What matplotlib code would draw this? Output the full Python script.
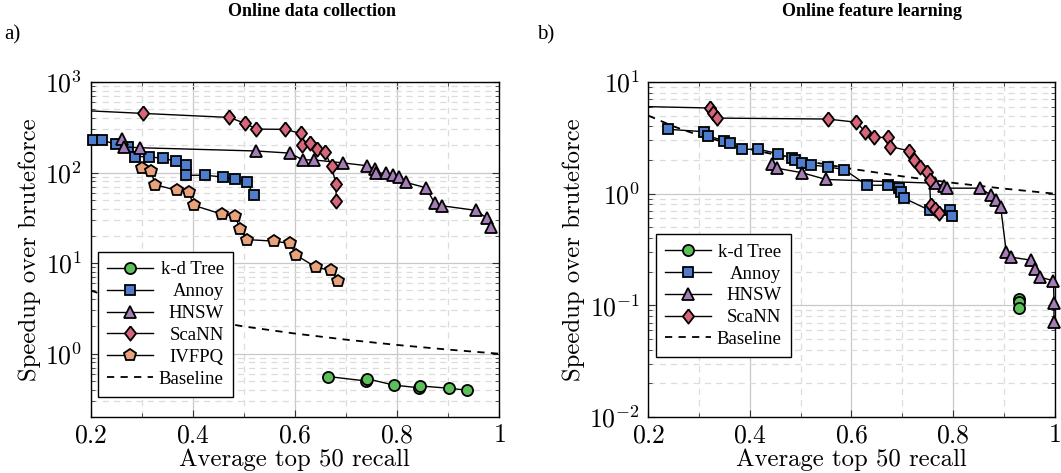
import numpy as np
import matplotlib
matplotlib.use("Agg")
import matplotlib.pyplot as plt
from matplotlib.lines import Line2D
from matplotlib.ticker import FixedLocator, FuncFormatter, NullFormatter, LogLocator
from matplotlib.transforms import Bbox

plt.rcParams["font.family"] = "serif"
plt.rcParams["font.serif"] = ["Liberation Serif", "DejaVu Serif"]
plt.rcParams["mathtext.fontset"] = "cm"

# ---------------- data: a) Online data collection ----------------
kd_a_x = [0.665, 0.739, 0.741, 0.794, 0.844, 0.846, 0.903, 0.938]
kd_a_y = [0.56, 0.50, 0.53, 0.45, 0.42, 0.44, 0.415, 0.395]

annoy_a_x = [0.204, 0.2225, 0.249, 0.2725, 0.287, 0.314, 0.342, 0.367, 0.388, 0.388,
             0.424, 0.459, 0.483, 0.506, 0.520]
annoy_a_y = [228, 228, 206, 192, 150, 150, 143, 134, 122, 93.4, 93.4, 89.5, 84.4, 78.8, 56.1]

hnsw_a_x = [0.262, 0.266, 0.297, 0.525, 0.590, 0.616, 0.637, 0.694, 0.741, 0.758, 0.760,
            0.779, 0.793, 0.805, 0.818, 0.857, 0.874, 0.888, 0.954, 0.977, 0.984]
hnsw_a_y = [232, 192, 188, 173, 164, 138, 138, 128, 119, 109, 98, 99, 93, 89.5, 77.8, 68,
            46, 43, 38.3, 31.2, 25.3]

scann_a_x = [0.10, 0.303, 0.472, 0.503, 0.525, 0.581, 0.612, 0.614, 0.630, 0.644, 0.659,
             0.672, 0.681, 0.681]
scann_a_y = [510, 450, 406, 349, 302, 300, 270, 201, 210, 180, 169, 117, 74, 48.5]

ivfpq_a_x = [0.300, 0.318, 0.327, 0.369, 0.392, 0.402, 0.458, 0.483, 0.493, 0.506, 0.559,
             0.591, 0.602, 0.642, 0.671, 0.685]
ivfpq_a_y = [111, 105, 73.3, 63.7, 61, 43.5, 34.6, 32.9, 24, 18.2, 17.5, 16.5, 12.3, 9.0,
             8.3, 6.27]

# ---------------- data: b) Online feature learning ----------------
kd_b_x = [0.931, 0.931, 0.931]
kd_b_y = [0.113, 0.107, 0.094]

annoy_b_x = [0.239, 0.309, 0.318, 0.350, 0.361, 0.384, 0.417, 0.456, 0.483, 0.488, 0.502,
             0.520, 0.554, 0.586, 0.631, 0.673, 0.693, 0.698, 0.704, 0.754, 0.795, 0.798]
annoy_b_y = [3.77, 3.59, 3.28, 2.98, 2.82, 2.50, 2.50, 2.28, 2.07, 2.00, 1.87, 1.81, 1.74,
             1.64, 1.19, 1.19, 1.12, 1.03, 0.91, 0.71, 0.71, 0.63]

hnsw_b_x = [0.443, 0.453, 0.503, 0.550, 0.765, 0.783, 0.789, 0.854, 0.875, 0.884, 0.894,
            0.905, 0.915, 0.953, 0.961, 0.971, 0.998, 0.999, 0.999]
hnsw_b_y = [1.84, 1.69, 1.54, 1.34, 1.24, 1.17, 1.12, 1.12, 0.97, 0.88, 0.76, 0.30, 0.27,
            0.254, 0.211, 0.179, 0.166, 0.105, 0.071]

scann_b_x = [0.10, 0.322, 0.328, 0.336, 0.553, 0.610, 0.627, 0.644, 0.673, 0.677, 0.713,
             0.723, 0.736, 0.748, 0.754, 0.756, 0.764, 0.773]
scann_b_y = [6.15, 5.85, 5.33, 4.75, 4.66, 4.36, 3.59, 3.19, 3.19, 2.64, 2.42, 2.01, 1.72,
             1.57, 1.32, 0.79, 0.73, 0.67]

baseline_x = [0.2, 0.25, 0.3, 0.4, 0.5, 0.6, 0.7, 0.8, 0.9, 1.0]
baseline_y = [5.0, 4.0, 3.33, 2.5, 2.0, 1.67, 1.43, 1.25, 1.11, 1.0]

x_ticks = [0.2, 0.4, 0.6, 0.8, 1.0]
x_ticklabels = ["0.2", "0.4", "0.6", "0.8", "1"]

titles = ["Online data collection", "Online feature learning"]
panel_tags = ["a)", "b)"]
xlabel = "Average top 50 recall"
ylabel = "Speedup over bruteforce"

# ---------------- styles ----------------
C_KD = "#5cbf5a"
C_AN = "#4d7dcc"
C_HN = "#a57db6"
C_SC = "#d8667b"
C_IV = "#e8a27c"
diamond = [(0, 1), (0.78, 0), (0, -1), (-0.78, 0), (0, 1)]
STY = {
    "k-d Tree": dict(marker="o", mfc=C_KD, ms=8.0),
    "Annoy": dict(marker="s", mfc=C_AN, ms=7.8),
    "HNSW": dict(marker="^", mfc=C_HN, ms=9.0),
    "ScaNN": dict(marker=diamond, mfc=C_SC, ms=10.3),
    "IVFPQ": dict(marker="p", mfc=C_IV, ms=9.3),
}
FS_TICK = 18.5
FS_LAB = 17.8
FS_LEG = 13.5

W, H = 1061, 473
fig = plt.figure(figsize=(W / 100, H / 100), dpi=100)
axA = fig.add_axes([90.5 / W, (H - 417) / H, 408.5 / W, 335 / H])
axB = fig.add_axes([648.3 / W, (H - 417) / H, 406.2 / W, 335 / H])


def draw_series(ax, x, y, name, z):
    x = np.asarray(x, float)
    y = np.asarray(y, float)
    st = STY[name]
    ax.plot(x, y, "-", color="black", lw=1.0, zorder=z)
    m = (x >= 0.2) & (x <= 1.0)
    ax.plot(x[m], y[m], ls="none", marker=st["marker"], mfc=st["mfc"], mec="black",
            mew=1.3, ms=st["ms"], zorder=z + 0.5, clip_on=False)
    return Line2D([], [], color="black", lw=1.0, marker=st["marker"], mfc=st["mfc"],
                  mec="black", mew=1.3, ms=st["ms"])


def style_axes(ax, ylim, ydecades):
    ax.set_xscale("linear")
    ax.set_yscale("log")
    ax.set_xlim(0.2, 1.0)
    ax.set_ylim(*ylim)
    ax.xaxis.set_major_locator(FixedLocator(x_ticks))
    ax.xaxis.set_major_formatter(FuncFormatter(
        lambda v, p: "$" + x_ticklabels[int(round((v - 0.2) / 0.2))] + "$"))
    ax.xaxis.set_minor_locator(FixedLocator([0.3, 0.5, 0.7, 0.9]))
    ax.yaxis.set_major_locator(FixedLocator([10.0 ** d for d in ydecades]))
    ax.yaxis.set_major_formatter(FuncFormatter(
        lambda v, p: "$10^{%d}$" % int(round(np.log10(v)))))
    ax.yaxis.set_minor_locator(LogLocator(base=10, subs=np.arange(2, 10), numticks=20))
    ax.yaxis.set_minor_formatter(NullFormatter())
    ax.grid(True, which="major", color="#c8c8c8", lw=0.9, ls="-", zorder=0)
    ax.grid(True, which="minor", color="#dcdcdc", lw=0.9, ls=(0, (5, 4)), zorder=0)
    ax.set_axisbelow(True)
    ax.tick_params(which="both", direction="in", top=True, right=True,
                   labelsize=FS_TICK, color="#333333")
    ax.tick_params(which="major", length=5, width=0.8, pad=6)
    ax.tick_params(which="minor", length=3, width=0.6)
    for s in ax.spines.values():
        s.set_linewidth(1.0)
        s.set_color("black")
    ax.set_xlabel(xlabel, fontsize=FS_LAB, family="cmr10", labelpad=1)
    ax.set_ylabel(ylabel, fontsize=FS_LAB, family="cmr10", labelpad=3)


def right_align_legend(leg):
    col = leg._legend_handle_box.get_children()[0]
    items = col.get_children()
    tas = [it.get_children()[1] for it in items]
    for ta in tas:
        ta._text.set_ha("right")
    cls = type(tas[0])

    def make(ta):
        def gb(renderer):
            W_ = max(cls.get_bbox(t, renderer).width for t in tas)
            b = cls.get_bbox(ta, renderer)
            return Bbox.from_bounds(-W_, b.y0, W_, b.height)
        return gb

    for ta in tas:
        ta.get_bbox = make(ta)


def make_legend(ax, handles, labels, anchor):
    leg = ax.legend(handles, labels, loc="lower left", bbox_to_anchor=anchor,
                    borderaxespad=0, fontsize=FS_LEG, handlelength=2.45,
                    handletextpad=0.3, labelspacing=0.25, borderpad=0.5,
                    fancybox=False, framealpha=1.0, edgecolor="black")
    leg.get_frame().set_linewidth(1.0)
    leg.set_zorder(20)
    right_align_legend(leg)
    return leg


# ---------------- panel a ----------------
style_axes(axA, (0.2, 1000), [0, 1, 2, 3])
hA = []
hA.append(draw_series(axA, kd_a_x, kd_a_y, "k-d Tree", 3))
hA.append(draw_series(axA, annoy_a_x, annoy_a_y, "Annoy", 4))
hA.append(draw_series(axA, hnsw_a_x, hnsw_a_y, "HNSW", 5))
hA.append(draw_series(axA, scann_a_x, scann_a_y, "ScaNN", 6))
hA.append(draw_series(axA, ivfpq_a_x, ivfpq_a_y, "IVFPQ", 7))
axA.plot(baseline_x, baseline_y, color="black", lw=1.3, ls=(0, (4, 3.5)), zorder=2.5)
hA.append(Line2D([], [], color="black", lw=1.3, ls=(0, (4, 3.5))))
make_legend(axA, hA, ["k-d Tree", "Annoy", "HNSW", "ScaNN", "IVFPQ", "Baseline"],
            (0.018, 0.06))

# ---------------- panel b ----------------
style_axes(axB, (0.01, 10), [-2, -1, 0, 1])
hB = []
hB.append(draw_series(axB, kd_b_x, kd_b_y, "k-d Tree", 3))
hB.append(draw_series(axB, annoy_b_x, annoy_b_y, "Annoy", 4))
hB.append(draw_series(axB, hnsw_b_x, hnsw_b_y, "HNSW", 5))
hB.append(draw_series(axB, scann_b_x, scann_b_y, "ScaNN", 6))
axB.plot(baseline_x, baseline_y, color="black", lw=1.3, ls=(0, (4, 3.5)), zorder=2.5)
hB.append(Line2D([], [], color="black", lw=1.3, ls=(0, (4, 3.5))))
make_legend(axB, hB, ["k-d Tree", "Annoy", "HNSW", "ScaNN", "Baseline"], (0.018, 0.178))

# titles and panel tags
fig.text(312 / W, 1 - 12 / H, titles[0], ha="center", va="center", fontsize=13,
         fontweight="bold")
fig.text(872 / W, 1 - 12 / H, titles[1], ha="center", va="center", fontsize=13,
         fontweight="bold")
fig.text(4 / W, 1 - 35 / H, panel_tags[0], ha="left", va="center", fontsize=15)
fig.text(537 / W, 1 - 35 / H, panel_tags[1], ha="left", va="center", fontsize=15)

fig.savefig("out.png", dpi=100)
